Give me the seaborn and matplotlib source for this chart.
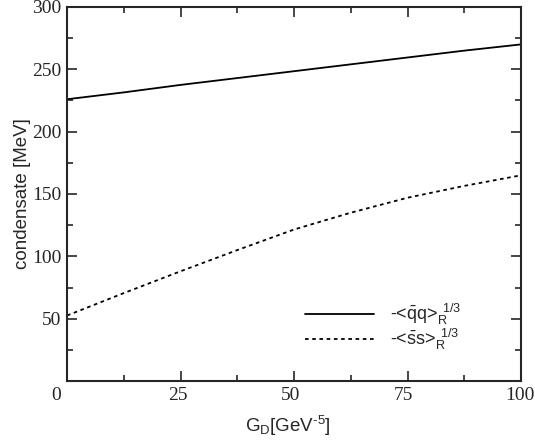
import matplotlib
matplotlib.use("Agg")
import matplotlib.pyplot as plt
import matplotlib.transforms as mtransforms
from matplotlib.ticker import MultipleLocator
import seaborn as sns
import pandas as pd

g_d = [0, 12.5, 25, 37.5, 50, 62.5, 75, 87.5, 100]
qq_cond = [226, 231.5, 237.5, 243, 248.5, 254, 259.5, 265, 270]
ss_cond = [52.5, 70.5, 88, 105, 121.5, 135, 147, 156.5, 165]
series_labels = [r"-<$\bar{\mathrm{q}}$q>$_\mathrm{R}^{\,\,\,1/3}$",
                 r"-<$\bar{\mathrm{s}}$s>$_\mathrm{R}^{\,\,\,1/3}$"]
x_ticks = [0, 25, 50, 75, 100]
y_ticks = [0, 50, 100, 150, 200, 250, 300]

df = pd.concat([
    pd.DataFrame({"G": g_d, "cond": qq_cond, "series": series_labels[0]}),
    pd.DataFrame({"G": g_d, "cond": ss_cond, "series": series_labels[1]}),
])

sns.set_style("ticks")
plt.rcParams["mathtext.fontset"] = "custom"
plt.rcParams["mathtext.rm"] = "Liberation Sans"
plt.rcParams["mathtext.it"] = "Liberation Sans:italic"

fig = plt.figure(figsize=(5.35, 4.41), dpi=100)
ax = fig.add_axes([67 / 535, 1 - 381 / 441, (521 - 67) / 535, (381 - 7) / 441])

sns.lineplot(data=df, x="G", y="cond", hue="series", style="series",
             palette=["black", "black"], dashes=[(None, None), (2, 2)],
             linewidth=1.3, ax=ax, legend=False)

ax.set_xlim(0, 100)
ax.set_ylim(0, 300)
ax.set_xticks(x_ticks)
ax.set_yticks(y_ticks)
ax.xaxis.set_minor_locator(MultipleLocator(12.5))
ax.yaxis.set_minor_locator(MultipleLocator(25))
ax.tick_params(which="both", direction="in", top=True, right=True, width=1.2)
ax.tick_params(which="major", length=7)
ax.tick_params(which="minor", length=4)
for sp in ax.spines.values():
    sp.set_linewidth(1.5)
    sp.set_visible(True)

ax.set_xticklabels([str(t) for t in x_ticks], family="Liberation Serif", fontsize=14)
ax.set_yticklabels(["" if t == 0 else str(t) for t in y_ticks],
                   family="Liberation Serif", fontsize=14)
ax.tick_params(axis="x", pad=4)
ax.tick_params(axis="y", pad=4)

labs = ax.get_xticklabels()
offs = {0: -11, 1: -3, 2: -3, 3: -4, 4: -1}
for i, lab in enumerate(labs):
    lab.set_transform(lab.get_transform() +
                      mtransforms.ScaledTranslation(offs[i] / 100, 0, fig.dpi_scale_trans))

ax.set_xlabel(r"G$_\mathrm{D}$[GeV$^{\text{-5}}$]", family="Liberation Sans", fontsize=13.5)
ax.xaxis.set_label_coords(0.487, -0.088)
ax.xaxis.label.set_va("top")
ax.set_ylabel("condensate [MeV]", family="Liberation Sans", fontsize=13.5, labelpad=1)

h1, = ax.plot([], [], color="black", lw=1.3)
h2, = ax.plot([], [], color="black", lw=1.3, dashes=(2, 2))
leg = ax.legend([h1, h2], series_labels, loc="lower left",
                bbox_to_anchor=(0.489, 0.033), frameon=False,
                handlelength=3.8, handletextpad=0.9, labelspacing=0.0,
                prop={"family": "Liberation Sans", "size": 13})

fig.savefig("out.png", dpi=100)
